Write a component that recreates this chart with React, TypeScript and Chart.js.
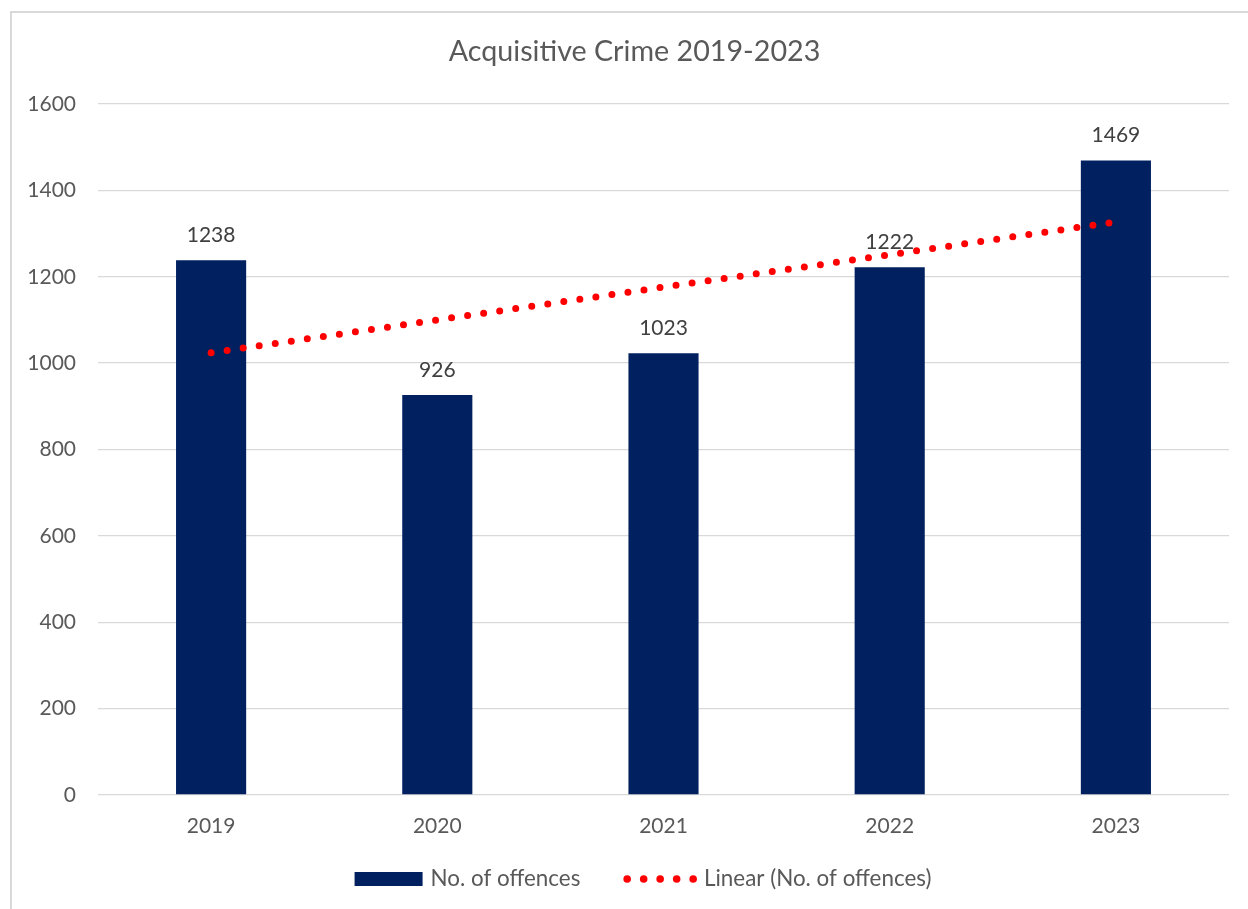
import React, { useEffect, useRef } from "react";
import { Chart, registerables } from "chart.js";

Chart.register(...registerables);

const chartTitle = "Acquisitive Crime 2019-2023";
const categories = ["2019", "2020", "2021", "2022", "2023"];
const offences = [1238, 926, 1023, 1222, 1469];
const trendValues = [1024, 1100, 1176, 1251, 1327];
const seriesNames = ["No. of offences", "Linear (No. of offences)"];
const yMin = 0;
const yMax = 1600;
const yStep = 200;

const FONT = "Lato, 'Noto Sans', sans-serif";
const BAR_COLOR = "#002060";
const TREND_COLOR = "#FF0000";
const TEXT_COLOR = "#595959";
const LABEL_COLOR = "#404040";
const GRID_COLOR = "#d9d9d9";

const titlePlugin = {
  id: "customTitle",
  afterDraw(chart: any) {
    const ctx = chart.ctx;
    ctx.save();
    ctx.font = `28.7px ${FONT}`;
    ctx.fillStyle = TEXT_COLOR;
    ctx.textAlign = "center";
    ctx.textBaseline = "middle";
    ctx.fillText(chartTitle, chart.width / 2 + 10.5, 52);
    ctx.restore();
  },
};

const barLabels = {
  id: "barLabels",
  afterDatasetDraw(chart: any, args: any) {
    if (args.index !== 0) return;
    const meta = chart.getDatasetMeta(0);
    const ctx = chart.ctx;
    ctx.save();
    ctx.font = `21px ${FONT}`;
    ctx.fillStyle = LABEL_COLOR;
    ctx.textAlign = "center";
    ctx.textBaseline = "middle";
    meta.data.forEach((el: any, i: number) => {
      ctx.fillText(String(offences[i]), el.x, el.y - 25);
    });
    ctx.restore();
  },
};

const customLegend = {
  id: "customLegend",
  afterDraw(chart: any) {
    const ctx = chart.ctx;
    ctx.save();
    ctx.font = `22.4px ${FONT}`;
    ctx.textBaseline = "middle";
    ctx.textAlign = "left";
    const boxW = 68;
    const boxH = 14;
    const gap1 = 8;
    const gapItems = 43;
    const dotCount = 5;
    const dotSpacing = 16.5;
    const dotR = 3.8;
    const gap2 = 7;
    const t1 = ctx.measureText(seriesNames[0]).width;
    const t2 = ctx.measureText(seriesNames[1]).width;
    const dotsW = (dotCount - 1) * dotSpacing + dotR * 2;
    const total = boxW + gap1 + t1 + gapItems + dotsW + gap2 + t2;
    const cy = chart.height - 30;
    let x = chart.width / 2 + 19 - total / 2;
    ctx.fillStyle = BAR_COLOR;
    ctx.fillRect(x, cy - boxH / 2, boxW, boxH);
    x += boxW + gap1;
    ctx.fillStyle = TEXT_COLOR;
    ctx.fillText(seriesNames[0], x, cy);
    x += t1 + gapItems;
    ctx.fillStyle = TREND_COLOR;
    for (let i = 0; i < dotCount; i++) {
      ctx.beginPath();
      ctx.arc(x + dotR + i * dotSpacing, cy, dotR, 0, Math.PI * 2);
      ctx.fill();
    }
    x += dotsW + gap2;
    ctx.fillStyle = TEXT_COLOR;
    ctx.fillText(seriesNames[1], x, cy);
    ctx.restore();
  },
};

export default function App() {
  const canvasRef = useRef<HTMLCanvasElement | null>(null);

  useEffect(() => {
    if (!canvasRef.current) return;
    const chart = new Chart(canvasRef.current, {
      type: "bar",
      data: {
        labels: categories,
        datasets: [
          {
            type: "bar",
            label: seriesNames[0],
            data: offences,
            backgroundColor: BAR_COLOR,
            borderWidth: 0,
            categoryPercentage: 1,
            barPercentage: 0.31,
            order: 1,
          },
          {
            type: "line",
            label: seriesNames[1],
            data: trendValues,
            borderColor: TREND_COLOR,
            backgroundColor: TREND_COLOR,
            borderWidth: 7,
            borderDash: [0, 16.2],
            borderCapStyle: "round",
            pointRadius: 0,
            pointHoverRadius: 0,
            fill: false,
            tension: 0,
            order: 0,
          },
        ],
      },
      options: {
        responsive: false,
        animation: false,
        layout: { padding: { left: 20, right: 19, top: 104, bottom: 69 } },
        plugins: {
          legend: { display: false },
          tooltip: { enabled: false },
          title: { display: false },
        },
        scales: {
          x: {
            grid: { display: false, drawTicks: false },
            border: { display: false },
            ticks: {
              color: TEXT_COLOR,
              font: { family: FONT, size: 21 },
              padding: 19,
            },
            afterFit: (s: any) => {
              s.height = 45;
            },
          },
          y: {
            min: yMin,
            max: yMax,
            grid: { color: GRID_COLOR, lineWidth: 1.3, drawTicks: false },
            border: { display: false },
            ticks: {
              stepSize: yStep,
              color: TEXT_COLOR,
              font: { family: FONT, size: 21 },
              padding: 22,
              callback: (v: any) => String(v),
            },
            afterFit: (s: any) => {
              s.width = 78;
            },
          },
        },
      },
      plugins: [titlePlugin, barLabels, customLegend],
    });
    return () => chart.destroy();
  }, []);

  return (
    <div
      style={{
        position: "fixed",
        left: 0,
        top: 0,
        width: 1248,
        height: 909,
        overflow: "hidden",
        background: "#fff",
      }}
    >
      <div
        style={{
          position: "absolute",
          left: 10,
          top: 11,
          width: 1400,
          height: 1100,
          borderLeft: "2px solid #d9d9d9",
          borderTop: "2px solid #d9d9d9",
        }}
      />
      <canvas
        ref={canvasRef}
        width={1248}
        height={909}
        style={{ position: "absolute", left: 0, top: 0, width: 1248, height: 909 }}
      />
    </div>
  );
}
